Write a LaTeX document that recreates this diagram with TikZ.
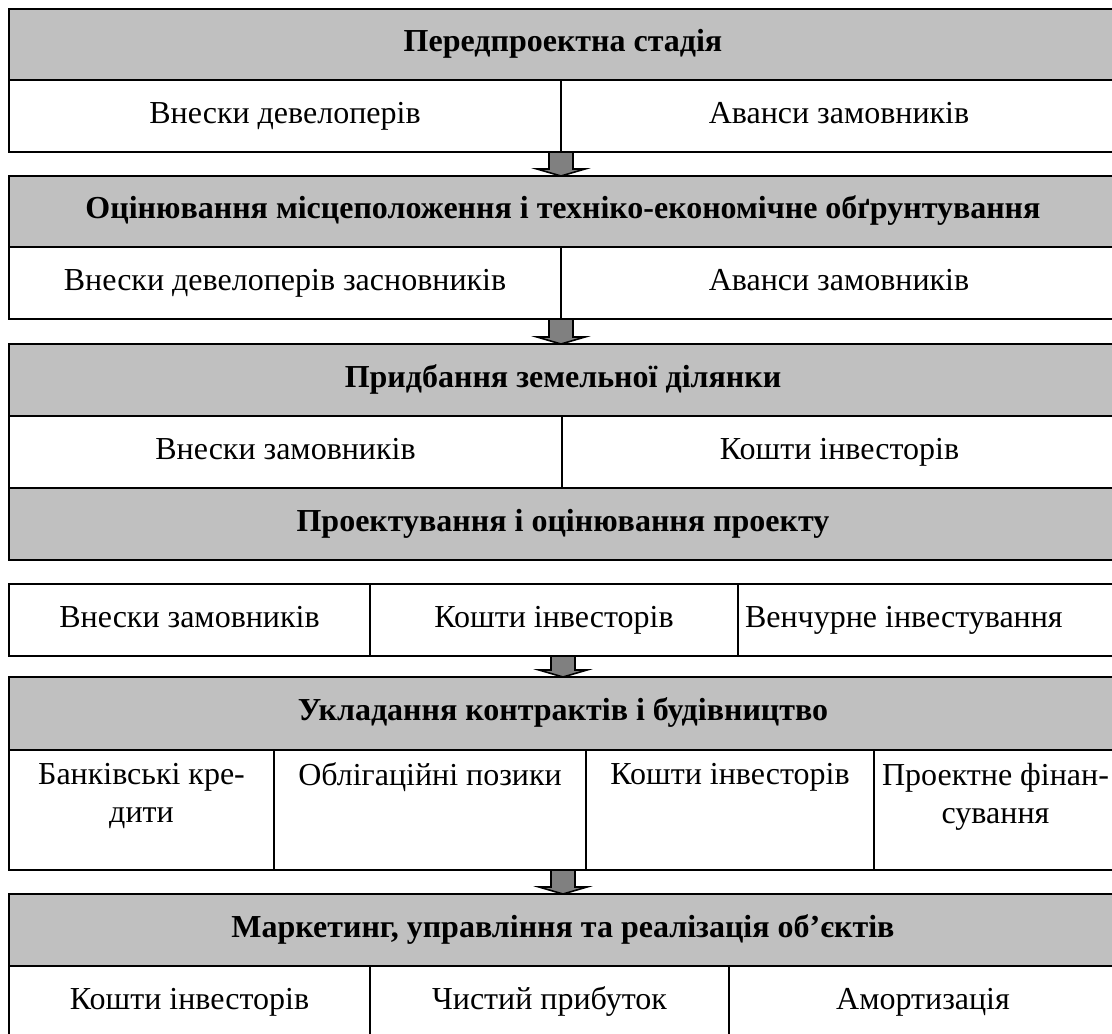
\documentclass[tikz,border=0pt]{standalone}
\usepackage{fontspec}
\setmainfont{Liberation Serif}
\usetikzlibrary{calc,positioning}

\definecolor{bandgray}{HTML}{C0C0C0}
\definecolor{arrowgray}{HTML}{808080}

\tikzset{
  band/.style={draw, fill=bandgray, line width=1pt, inner sep=0pt, outer sep=0pt,
    anchor=north west, minimum width=554pt, minimum height=36pt,
    text height=12.5pt, text depth=5.5pt,
    font=\fontsize{16}{19}\selectfont\bfseries},
  cell/.style={draw, fill=white, line width=1pt, inner sep=0pt, outer sep=0pt,
    anchor=north west, minimum height=36pt, align=center,
    text height=12.5pt, text depth=5.5pt,
    font=\fontsize{16}{19}\selectfont},
  celltext/.style={inner sep=0pt, align=center, font=\fontsize{16}{19}\selectfont},
  flow/.style={draw=black, fill=arrowgray, line width=0.8pt, line join=miter}
}

\newcommand{\stagearrow}[2]{%
  \path (#1) coordinate (s) (s |- #2.north) coordinate (t);
  \draw[flow] ($(s)+(-6pt,0)$) -- ($(t)+(-6pt,3.5pt)$) -- ($(t)+(-12pt,3.5pt)$)
    -- (t) -- ($(t)+(12pt,3.5pt)$) -- ($(t)+(6pt,3.5pt)$) -- ($(s)+(6pt,0)$) -- cycle;}

\begin{document}
\begin{tikzpicture}[x=0.5pt, y=-0.5pt]
\useasboundingbox (0,0) rectangle (1112,1033);
\clip (0,0) rectangle (1112,1033);

%%Stage 1
\node[band, minimum height=35.5pt] (pre) at (9,9) {Передпроектна стадія};
\node[cell, minimum width=276pt] (pre-l) at (pre.south west) {Внески девелоперів};
\node[cell, minimum width=278pt] (pre-r) at (pre-l.north east) {Аванси замовників};

%%Stage 2
\node[band, minimum height=35.5pt] (est) at (9,176) {Оцінювання місцеположення і техніко-економічне обґрунтування};
\node[cell, minimum width=276pt] (est-l) at (est.south west) {Внески девелоперів засновників};
\node[cell, minimum width=278pt] (est-r) at (est-l.north east) {Аванси замовників};

%%Stage 3
\node[band] (land) at (9,344) {Придбання земельної ділянки};
\node[cell, minimum width=276.5pt] (land-l) at (land.south west) {Внески замовників};
\node[cell, minimum width=277.5pt] (land-r) at (land-l.north east) {Кошти інвесторів};
\node[band] (design) at (land-l.south west) {Проектування і оцінювання проекту};

%%Stage 4
\node[cell, minimum width=180.5pt] (fund-a) at (9,584) {Внески замовників};
\node[cell, minimum width=184pt] (fund-b) at (fund-a.north east) {Кошти інвесторів};
\node[cell, minimum width=189.5pt, text width=182.5pt, align=flush left] (fund-c) at (fund-b.north east) {Венчурне інвестування};

%%Stage 5
\node[band, minimum height=36.5pt] (build) at (9,677) {Укладання контрактів і будівництво};
\node[cell, minimum width=132.5pt, minimum height=60pt] (build-a) at (build.south west) {};
\node[cell, minimum width=156pt, minimum height=60pt] (build-b) at (build-a.north east) {};
\node[cell, minimum width=144pt, minimum height=60pt] (build-c) at (build-b.north east) {};
\node[cell, minimum width=121.5pt, minimum height=60pt] (build-d) at (build-c.north east) {};
\node[celltext, below=6.3pt of build-a.north] (build-a-txt) {Банківські кре-\\дити};
\node[celltext, below=6.3pt of build-b.north] (build-b-txt) {Облігаційні позики};
\node[celltext, below=6.3pt of build-c.north] (build-c-txt) {Кошти інвесторів};
\node[celltext, below=6.3pt of build-d.north] (build-d-txt) {Проектне фінан-\\сування};

%%Stage 6
\node[band] (sale) at (9,894) {Маркетинг, управління та реалізація об’єктів};
\node[cell, minimum width=180.5pt] (sale-a) at (sale.south west) {Кошти інвесторів};
\node[cell, minimum width=179.5pt] (sale-b) at (sale-a.north east) {Чистий прибуток};
\node[cell, minimum width=194pt] (sale-c) at (sale-b.north east) {Амортизація};

%%Arrows
\stagearrow{pre-l.south east}{est}
\stagearrow{est-l.south east}{land}
\stagearrow{fund-b.south -| build.north}{build}
\stagearrow{build-b.south -| sale.north}{sale}
\end{tikzpicture}
\end{document}
